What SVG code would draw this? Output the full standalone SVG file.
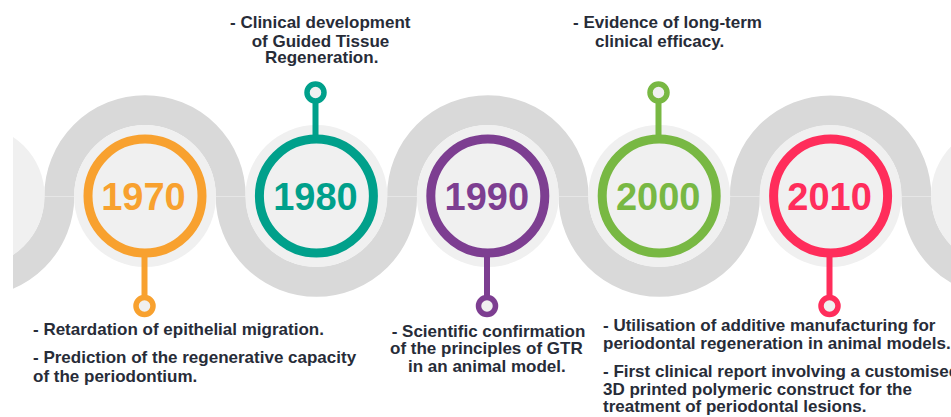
<svg xmlns="http://www.w3.org/2000/svg" width="951" height="417" viewBox="0 0 951 417">
  <style>
    .band { fill: none; stroke: #d9d9d9; stroke-width: 30; }
    .halo { fill: #f0f0f0; }
    .ring { fill: none; stroke-width: 9; }
    .stem { stroke-width: 6; }
    .pin { fill: #f0f0f0; stroke-width: 5.5; }
    .year { font-family: "Liberation Sans", Arial, sans-serif; font-weight: bold; font-size: 38px; text-anchor: middle; }
    .note { font-family: "Liberation Sans", Arial, sans-serif; font-weight: bold; font-size: 17px; fill: #272c38; }
    .s1970 { stroke: #f8a12f; } .f1970 { fill: #f8a12f; }
    .s1980 { stroke: #00a08b; } .f1980 { fill: #00a08b; }
    .s1990 { stroke: #7d3e91; } .f1990 { fill: #7d3e91; }
    .s2000 { stroke: #78b843; } .f2000 { fill: #78b843; }
    .s2010 { stroke: #ff2d5b; } .f2010 { fill: #ff2d5b; }
  </style>
  <defs>
    <clipPath id="view">
      <rect x="13" y="0" width="938" height="417"/>
    </clipPath>
  </defs>
  <rect width="951" height="417" fill="#ffffff"/>

  <!-- wavy band with its light discs -->
  <g id="band" clip-path="url(#view)">
    <path class="band" d="M -112.1 196 A 85.7 85.7 0 0 0 59.3 196 A 85.7 85.7 0 0 1 230.7 196 A 85.7 85.7 0 0 0 402.1 196 A 85.7 85.7 0 0 1 573.5 196 A 85.7 85.7 0 0 0 744.9 196 A 85.7 85.7 0 0 1 916.3 196 A 85.7 85.7 0 0 0 1087.7 196"/>
    <g stroke="#e6e6e6" stroke-width="1">
      <line x1="44" y1="196.5" x2="74" y2="196.5"/>
      <line x1="216" y1="196.5" x2="246" y2="196.5"/>
      <line x1="387" y1="196.5" x2="417" y2="196.5"/>
      <line x1="558" y1="196.5" x2="588" y2="196.5"/>
      <line x1="730" y1="196.5" x2="760" y2="196.5"/>
      <line x1="901" y1="196.5" x2="931" y2="196.5"/>
    </g>
    <circle class="halo" cx="-26.4" cy="196" r="71"/>
    <circle class="halo" cx="145" cy="196" r="71"/>
    <circle class="halo" cx="316.4" cy="196" r="71"/>
    <circle class="halo" cx="487.8" cy="196" r="71"/>
    <circle class="halo" cx="659.2" cy="196" r="71"/>
    <circle class="halo" cx="830.6" cy="196" r="71"/>
    <circle class="halo" cx="1002" cy="196" r="71"/>
  </g>

  <!-- stems linking each year ring to its pin -->
  <g id="connectors">
    <line class="stem s1970" x1="144.5" y1="257" x2="144.5" y2="296"/>
    <line class="stem s1980" x1="315.5" y1="103" x2="315.5" y2="135"/>
    <line class="stem s1990" x1="487" y1="257" x2="487" y2="296"/>
    <line class="stem s2000" x1="658.5" y1="103" x2="658.5" y2="135"/>
    <line class="stem s2010" x1="829.5" y1="257" x2="829.5" y2="296"/>
  </g>

  <g id="y1970">
    <circle class="ring s1970" cx="145" cy="196" r="57"/>
    <circle class="pin s1970" cx="144.5" cy="306" r="8.5"/>
    <text class="year f1970" x="143.5" y="209.5">1970</text>
    <text class="note" x="33" y="335">- Retardation of epithelial migration.</text>
    <text class="note" x="33" y="363.3">- Prediction of the regenerative capacity</text>
    <text class="note" x="33" y="381.7">of the periodontium.</text>
  </g>

  <g id="y1980">
    <circle class="ring s1980" cx="316.4" cy="196" r="57"/>
    <circle class="pin s1980" cx="315.5" cy="92.5" r="8.5"/>
    <text class="year f1980" x="315.4" y="209.5">1980</text>
    <text class="note" x="230" y="28.3">- Clinical development</text>
    <text class="note" x="251.7" y="46.7">of Guided Tissue</text>
    <text class="note" x="265" y="63.3">Regeneration.</text>
  </g>

  <g id="y1990">
    <circle class="ring s1990" cx="487.8" cy="196" r="57"/>
    <circle class="pin s1990" cx="487" cy="306" r="8.5"/>
    <text class="year f1990" x="486.8" y="209.5">1990</text>
    <text class="note" x="391.7" y="336.7">- Scientific confirmation</text>
    <text class="note" x="390" y="354.3">of the principles of GTR</text>
    <text class="note" x="408" y="371.7">in an animal model.</text>
  </g>

  <g id="y2000">
    <circle class="ring s2000" cx="659.2" cy="196" r="57"/>
    <circle class="pin s2000" cx="658.5" cy="92.5" r="8.5"/>
    <text class="year f2000" x="658.2" y="209.5">2000</text>
    <text class="note" x="573" y="28.3">- Evidence of long-term</text>
    <text class="note" x="595" y="46.7">clinical efficacy.</text>
  </g>

  <g id="y2010">
    <circle class="ring s2010" cx="830.6" cy="196" r="57"/>
    <circle class="pin s2010" cx="829.5" cy="306" r="8.5"/>
    <text class="year f2010" x="829.6" y="209.5">2010</text>
    <text class="note" x="603" y="330.7">- Utilisation of additive manufacturing for</text>
    <text class="note" x="603" y="349">periodontal regeneration in animal models.</text>
    <text class="note" x="603" y="376.7">- First clinical report involving a customised</text>
    <text class="note" x="603" y="395">3D printed polymeric construct for the</text>
    <text class="note" x="603" y="411.7">treatment of periodontal lesions.</text>
  </g>
</svg>
